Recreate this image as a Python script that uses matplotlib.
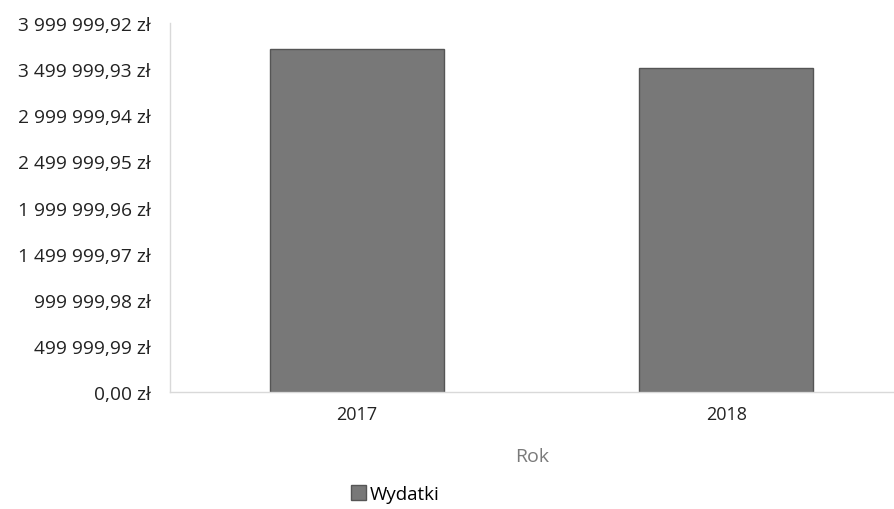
import matplotlib
matplotlib.use("Agg")
import matplotlib.pyplot as plt
from matplotlib.ticker import FuncFormatter

# Data
years = ["2017", "2018"]
wydatki = [3720000.0, 3510000.0]
y_ticks = [0.00, 499999.99, 999999.98, 1499999.97, 1999999.96,
           2499999.95, 2999999.94, 3499999.93, 3999999.92]

plt.rcParams["font.family"] = ["Open Sans", "DejaVu Sans"]


def pln(value, pos=None):
    """Format as Polish currency: '3 499 999,93 zł'."""
    whole, frac = f"{value:,.2f}".split(".")
    return whole.replace(",", " ") + "," + frac + " zł"


fig = plt.figure(figsize=(8.94, 5.10), dpi=100)
ax = fig.add_axes([0.190, 0.229, 0.81, 0.724])

x = list(range(len(years)))
ax.bar(x, wydatki, width=0.47, color="#787878", edgecolor="#555555",
       linewidth=1.0, label="Wydatki")

ax.set_xlim(-0.507, 1.455)
ax.set_ylim(0, y_ticks[-1])
ax.set_yticks(y_ticks)
ax.yaxis.set_major_formatter(FuncFormatter(pln))
ax.set_xticks(x)
ax.set_xticklabels(years)

ax.tick_params(axis="both", length=0, labelcolor="#222222")
ax.tick_params(axis="y", labelsize=13.8, pad=14)
ax.tick_params(axis="x", labelsize=13, pad=9.5)

for side in ("top", "right"):
    ax.spines[side].set_visible(False)
for side in ("left", "bottom"):
    ax.spines[side].set_color("#d9d9d9")
    ax.spines[side].set_linewidth(1.0)

ax.set_xlabel("Rok", fontsize=14, color="#7a7a7a", labelpad=17)

fig.legend(loc="center", bbox_to_anchor=(395 / 894, 1 - 495 / 510),
           frameon=False, fontsize=13.5, handlelength=0.8, handleheight=0.8,
           handletextpad=0.2)

fig.savefig("out.png", dpi=100, facecolor="white")
